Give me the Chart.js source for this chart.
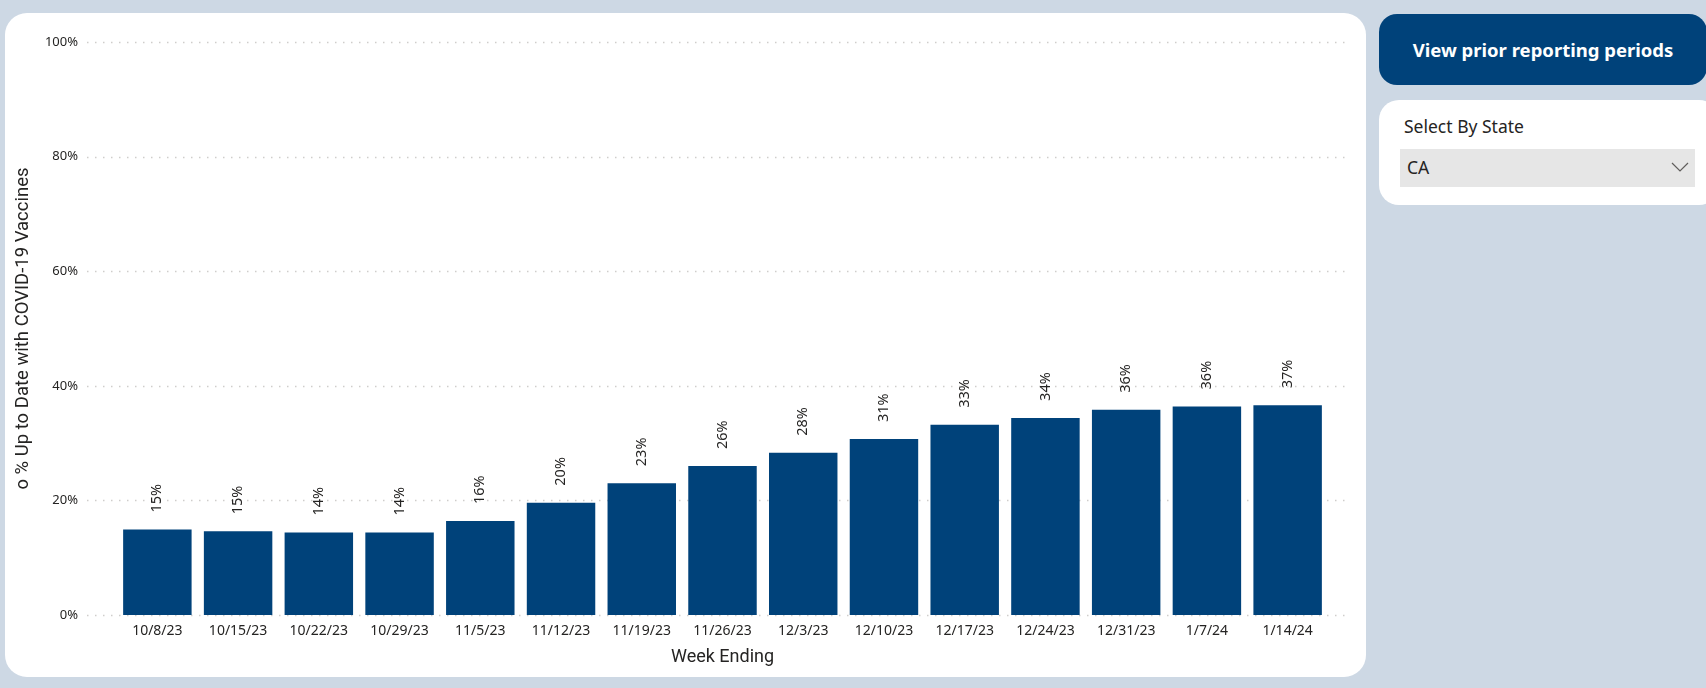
<!DOCTYPE html>
<html>
<head>
<meta charset="utf-8">
<script src="https://cdn.jsdelivr.net/npm/chart.js@4.4.1/dist/chart.umd.min.js"></script>
<style>
  html, body { margin: 0; padding: 0; }
  body { width: 1706px; height: 688px; background: #cdd8e4; position: relative; overflow: hidden; font-family: "Noto Sans", "Open Sans", sans-serif; }
  #card { position: absolute; left: 5px; top: 13px; width: 1361px; height: 664px; background: #fff; border-radius: 22px; }
  #chartBox { position: absolute; left: 0; top: 0; width: 1361px; height: 664px; }
  #btn { position: absolute; left: 1379px; top: 14px; width: 328px; height: 71px; background: #00427a; border-radius: 18px;
         color: #fff; font-weight: bold; font-size: 18.5px; display: flex; align-items: center; justify-content: center; }
  #slicer { position: absolute; left: 1379px; top: 100px; width: 340px; height: 105px; background: #fff; border-radius: 20px; }
  #slicer .title { position: absolute; left: 25px; top: 14px; font-size: 17.5px; color: #252423; }
  #slicer .drop { position: absolute; left: 21px; top: 49px; width: 295px; height: 38px; background: #e6e6e6; }
  #slicer .drop span { position: absolute; left: 7px; top: 6px; font-size: 17.5px; color: #252423; }
  #slicer .drop svg { position: absolute; right: 6px; top: 13px; }
</style>
</head>
<body>
<div id="card"><div id="chartBox"><canvas id="barCtx"></canvas></div></div>
<div id="btn">View prior reporting periods</div>
<div id="slicer">
  <div class="title">Select By State</div>
  <div class="drop"><span>CA</span>
    <svg width="18" height="10" viewBox="0 0 18 10"><polyline points="1,1 9,9 17,1" fill="none" stroke="#605e5c" stroke-width="1.2"/></svg>
  </div>
</div>
<script>
// week ending dates and % up to date
const weeks = ["10/8/23", "10/15/23", "10/22/23", "10/29/23", "11/5/23", "11/12/23", "11/19/23", "11/26/23",
  "12/3/23", "12/10/23", "12/17/23", "12/24/23", "12/31/23", "1/7/24", "1/14/24"];
const pctUpToDate = [14.9, 14.6, 14.4, 14.4, 16.4, 19.6, 23.0, 26.0, 28.3, 30.7, 33.2, 34.4, 35.8, 36.4, 36.6];
const yTicks = [0, 20, 40, 60, 80, 100];

const barCtx = document.getElementById("barCtx").getContext("2d");

// dotted gridlines that run a bit past the bars on both sides, like Power BI
const dottedGrid = {
  id: "dottedGrid",
  beforeDatasetsDraw(chart) {
    const ctx = chart.ctx;
    const y = chart.scales.y;
    const area = chart.chartArea;
    ctx.save();
    ctx.strokeStyle = "#cfcdcb";
    ctx.lineWidth = 1.5;
    ctx.setLineDash([1.5, 6.5]);
    yTicks.forEach(function (t) {
      const py = Math.round(y.getPixelForValue(t)) + 0.5;
      ctx.beginPath();
      ctx.moveTo(area.left - 30, py);
      ctx.lineTo(area.right + 22, py);
      ctx.stroke();
    });
    ctx.restore();
  }
};

// rotated value labels above each bar
const barLabels = {
  id: "barLabels",
  afterDatasetsDraw(chart) {
    const ctx = chart.ctx;
    const meta = chart.getDatasetMeta(0);
    ctx.save();
    ctx.fillStyle = "#252423";
    ctx.font = "14.5px 'Noto Sans'";
    ctx.textAlign = "left";
    ctx.textBaseline = "middle";
    meta.data.forEach(function (bar, i) {
      ctx.save();
      ctx.translate(bar.x, bar.y - 17);
      ctx.rotate(-Math.PI / 2);
      ctx.fillText(Math.round(pctUpToDate[i]) + "%", 0, 0);
      ctx.restore();
    });
    ctx.restore();
  }
};

var barChart = new Chart(barCtx, {
  type: "bar",
  data: {
    labels: weeks,
    datasets: [{
      data: pctUpToDate,
      backgroundColor: "#00427a",
      borderWidth: 0,
      categoryPercentage: 1,
      barPercentage: 0.848
    }]
  },
  options: {
    responsive: true,
    maintainAspectRatio: false,
    animation: false,
    layout: { padding: { left: 0, right: 38, top: 29, bottom: 0 } },
    plugins: { legend: { display: false }, tooltip: { enabled: false } },
    scales: {
      x: {
        grid: { display: false, drawTicks: false },
        border: { display: false },
        ticks: { color: "#252423", font: { family: "Noto Sans", size: 14 }, padding: 8, maxRotation: 0, autoSkip: false },
        title: { display: true, text: "Week Ending", color: "#252423", font: { family: "Roboto", size: 18 }, padding: { top: 0, bottom: 9 } },
        afterFit(scale) { scale.height = 62; }
      },
      y: {
        min: 0,
        max: 100,
        // tick marks are hidden, their length only pushes the labels out past the gridline start
        grid: { display: false, drawTicks: true, tickLength: 30 },
        border: { display: false },
        afterBuildTicks(scale) { scale.ticks = yTicks.map(v => ({ value: v })); },
        ticks: { color: "#252423", font: { family: "Noto Sans", size: 13 }, padding: 9, callback: v => v + "%" },
        title: { display: true, text: "o % Up to Date with COVID-19 Vaccines", color: "#252423", font: { family: "Roboto", size: 18.5 }, padding: { top: 7, bottom: 0 } },
        afterFit(scale) { scale.width = 112; }
      }
    }
  },
  plugins: [dottedGrid, barLabels]
});
</script>
</body>
</html>
